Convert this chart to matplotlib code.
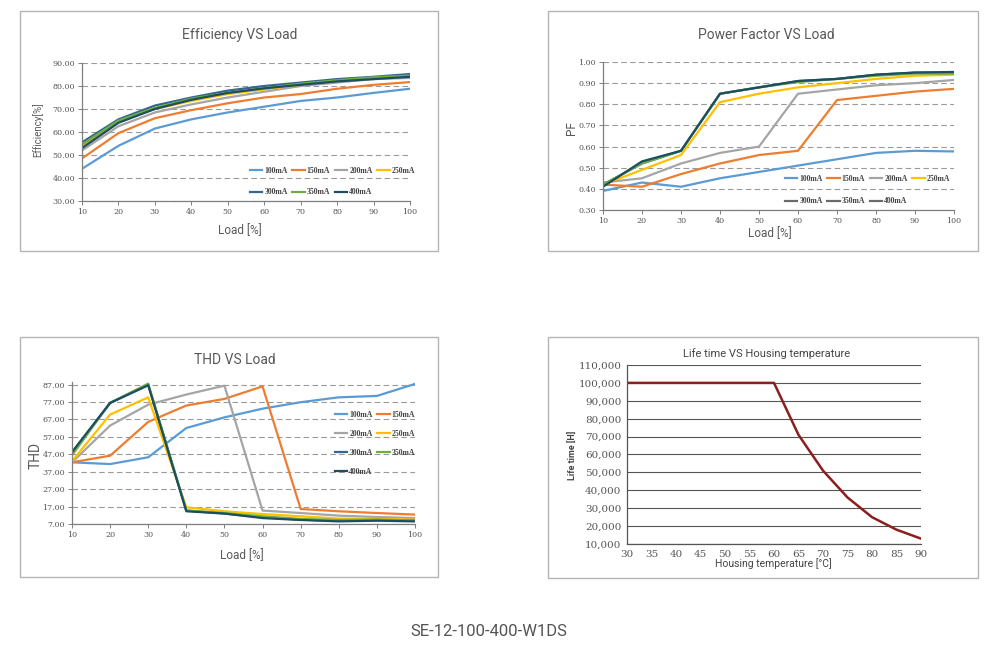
import matplotlib
matplotlib.use("Agg")
import matplotlib.pyplot as plt
from matplotlib.patches import Rectangle

W, H = 995, 664

# ---------------- data ----------------
load = [10, 20, 30, 40, 50, 60, 70, 80, 90, 100]
series_names = ["100mA", "150mA", "200mA", "250mA", "300mA", "350mA", "400mA"]
series_colors = ["#5b9bd5", "#ed7d31", "#a5a5a5", "#ffc000", "#34678f", "#70ad47", "#1b4f5f"]

eff_100 = [44.0, 54.0, 61.5, 65.5, 68.5, 71.0, 73.5, 75.0, 77.0, 78.8]
eff_150 = [48.5, 59.5, 66.0, 69.5, 72.5, 75.0, 76.5, 78.8, 80.5, 81.7]
eff_200 = [52.0, 62.5, 68.5, 72.0, 75.0, 77.5, 80.0, 81.5, 83.0, 83.5]
eff_250 = [54.0, 64.5, 70.0, 73.5, 76.5, 78.5, 80.5, 82.5, 83.5, 84.5]
eff_300 = [55.5, 65.5, 71.5, 75.0, 78.0, 80.0, 81.5, 83.0, 84.0, 85.2]
eff_350 = [54.5, 65.0, 70.5, 74.5, 77.0, 79.0, 81.0, 82.5, 83.8, 84.5]
eff_400 = [53.0, 64.0, 70.0, 74.0, 77.0, 79.0, 80.5, 82.0, 83.0, 84.0]

pf_100 = [0.39, 0.43, 0.41, 0.45, 0.48, 0.51, 0.54, 0.57, 0.58, 0.577]
pf_150 = [0.42, 0.41, 0.47, 0.52, 0.56, 0.58, 0.82, 0.84, 0.86, 0.873]
pf_200 = [0.43, 0.45, 0.52, 0.57, 0.60, 0.85, 0.87, 0.89, 0.90, 0.915]
pf_250 = [0.42, 0.49, 0.56, 0.81, 0.85, 0.88, 0.90, 0.92, 0.935, 0.94]
pf_300 = [0.42, 0.52, 0.58, 0.85, 0.88, 0.91, 0.92, 0.94, 0.95, 0.95]
pf_350 = [0.42, 0.52, 0.58, 0.85, 0.88, 0.905, 0.92, 0.935, 0.945, 0.945]
pf_400 = [0.41, 0.53, 0.58, 0.85, 0.88, 0.91, 0.92, 0.94, 0.95, 0.953]

thd_100 = [42.4, 41.4, 45.3, 62.1, 68.2, 73.2, 76.9, 79.7, 80.5, 87.4]
thd_150 = [42.4, 46.2, 65.6, 75.0, 78.8, 86.0, 15.6, 14.3, 13.3, 12.4]
thd_200 = [42.4, 63.5, 75.5, 81.3, 86.4, 14.7, 13.3, 11.8, 11.0, 10.4]
thd_250 = [43.0, 69.8, 79.7, 16.6, 14.3, 12.7, 11.4, 10.1, 9.9, 9.5]
thd_300 = [47.8, 76.5, 87.0, 14.7, 13.0, 10.8, 9.5, 8.9, 9.3, 8.9]
thd_350 = [46.4, 76.5, 87.6, 14.8, 13.3, 11.4, 9.9, 9.3, 9.5, 9.1]
thd_400 = [48.3, 76.5, 86.6, 14.3, 13.0, 10.4, 9.3, 8.5, 8.9, 8.5]

temp = [30, 35, 40, 45, 50, 55, 60, 65, 70, 75, 80, 85, 90]
life_hours = [100000, 100000, 100000, 100000, 100000, 100000, 100000, 71000, 51000, 36000, 25000, 18000, 13000]

eff_yticks = [30, 40, 50, 60, 70, 80, 90]
pf_yticks = [0.30, 0.40, 0.50, 0.60, 0.70, 0.80, 0.90, 1.00]
thd_yticks = [7, 17, 27, 37, 47, 57, 67, 77, 87]
life_yticks = [10000, 20000, 30000, 40000, 50000, 60000, 70000, 80000, 90000, 100000, 110000]

# ---------------- figure ----------------
fig = plt.figure(figsize=(W / 100, H / 100), dpi=100)
fig.patch.set_facecolor("white")

TITLE_FONT = ["Roboto", "DejaVu Sans"]
TICK_FONT = ["DejaVu Serif"]
LEG_FONT = ["Liberation Serif", "DejaVu Serif"]
TXT = "#595959"
SPINE = "#7f7f7f"


def ax_at(l, t, r, b):
    return fig.add_axes([l / W, 1 - b / H, (r - l) / W, (b - t) / H])


def frame(l, t, r, b):
    fig.add_artist(Rectangle((l / W, 1 - b / H), (r - l) / W, (b - t) / H,
                             transform=fig.transFigure, fill=False,
                             edgecolor="#b4b4b4", linewidth=1.0))


def style(ax, tick_size=5.8):
    for s in ["top", "right"]:
        ax.spines[s].set_visible(False)
    for s in ["left", "bottom"]:
        ax.spines[s].set_color(SPINE)
        ax.spines[s].set_linewidth(0.9)
    ax.tick_params(axis="both", colors=SPINE, labelcolor="#555555", length=3, width=0.7,
                   labelsize=tick_size, pad=2)
    for lab in ax.get_xticklabels() + ax.get_yticklabels():
        lab.set_fontfamily(TICK_FONT)


def dashed_grid(ax):
    ax.grid(axis="y", color="#9a9a9a", linestyle=(0, (5, 3)), linewidth=0.8)
    ax.set_axisbelow(True)


def legend_kw(anchor, spacing):
    return dict(loc="upper left", bbox_to_anchor=(anchor[0] / W, 1 - anchor[1] / H),
                bbox_transform=fig.transFigure, frameon=False,
                prop=dict(family=LEG_FONT, weight="bold", size=5.6),
                handlelength=1.6, labelspacing=spacing, columnspacing=0.6,
                handletextpad=0.25, labelcolor="#444444", borderpad=0)


frame(20, 11, 438, 251)
frame(548, 11, 978, 251)
frame(20, 337, 438, 577)
frame(548, 337, 978, 578)

order = [0, 4, 1, 5, 2, 6, 3]

# ---------- Efficiency ----------
ax1 = ax_at(82, 63, 410, 201)
effs = [eff_100, eff_150, eff_200, eff_250, eff_300, eff_350, eff_400]
h1 = []
for name, col, ys in zip(series_names, series_colors, effs):
    ln, = ax1.plot(load, ys, color=col, lw=1.6, label=name)
    h1.append(ln)
ax1.set_xlim(10, 100)
ax1.set_ylim(30, 90)
ax1.set_xticks(load)
ax1.set_yticks(eff_yticks)
ax1.set_yticklabels([f"{v:.2f}" for v in eff_yticks])
dashed_grid(ax1)
style(ax1)
ax1.legend([h1[i] for i in order], [series_names[i] for i in order], ncol=4,
           **legend_kw((246, 163), 1.75))
fig.text(240 / W, 1 - 35 / H, "Efficiency VS Load", ha="center", va="center",
         fontsize=10, color=TXT, family=TITLE_FONT)
fig.text(240 / W, 1 - 231 / H, "Load [%]", ha="center", va="center",
         fontsize=8.5, color=TXT, family=TITLE_FONT)
fig.text(38 / W, 1 - 130 / H, "Efficiency[%]", ha="center", va="center",
         rotation=90, fontsize=7, color=TXT, family=TITLE_FONT)

# ---------- Power factor ----------
ax2 = ax_at(603, 62, 954, 210)
pfs = [pf_100, pf_150, pf_200, pf_250, pf_300, pf_350, pf_400]
h2 = []
for name, col, ys in zip(series_names, series_colors, pfs):
    ln, = ax2.plot(load, ys, color=col, lw=1.6, label=name)
    h2.append(ln)
ax2.set_xlim(10, 100)
ax2.set_ylim(0.30, 1.00)
ax2.set_xticks(load)
ax2.set_yticks(pf_yticks)
ax2.set_yticklabels([f"{v:.2f}" for v in pf_yticks])
dashed_grid(ax2)
style(ax2)
leg_handles = []
for i in order:
    if i >= 4:
        leg_handles.append(plt.Line2D([], [], color="#6a6a6a", lw=1.6))
    else:
        leg_handles.append(h2[i])
ax2.legend(leg_handles, [series_names[i] for i in order], ncol=4,
           **legend_kw((781, 171), 1.85))
fig.text(766 / W, 1 - 35 / H, "Power Factor VS Load", ha="center", va="center",
         fontsize=10, color=TXT, family=TITLE_FONT)
fig.text(770 / W, 1 - 234 / H, "Load [%]", ha="center", va="center",
         fontsize=8.5, color=TXT, family=TITLE_FONT)
fig.text(572 / W, 1 - 128 / H, "PF", ha="center", va="center",
         rotation=90, fontsize=8.5, color=TXT, family=TITLE_FONT)

# ---------- THD ----------
ax3 = ax_at(72, 382, 415, 524)
thds = [thd_100, thd_150, thd_200, thd_250, thd_300, thd_350, thd_400]
h3 = []
for name, col, ys in zip(series_names, series_colors, thds):
    ln, = ax3.plot(load, ys, color=col, lw=1.6, label=name)
    h3.append(ln)
ax3.set_xlim(10, 100)
ax3.set_ylim(7, 88.5)
ax3.set_xticks(load)
ax3.set_yticks(thd_yticks)
ax3.set_yticklabels([f"{v:.2f}" for v in thd_yticks])
dashed_grid(ax3)
style(ax3)
order3 = [0, 2, 4, 6, 1, 3, 5]
ax3.legend([h3[i] for i in order3], [series_names[i] for i in order3], ncol=2,
           **legend_kw((331, 407), 1.4))
fig.text(235 / W, 1 - 360 / H, "THD VS Load", ha="center", va="center",
         fontsize=10, color=TXT, family=TITLE_FONT)
fig.text(242 / W, 1 - 556 / H, "Load [%]", ha="center", va="center",
         fontsize=8.5, color=TXT, family=TITLE_FONT)
fig.text(36 / W, 1 - 455 / H, "THD", ha="center", va="center",
         rotation=90, fontsize=10, color=TXT, family=TITLE_FONT)

# ---------- Life time ----------
ax4 = ax_at(627, 365, 921, 544)
ax4.plot(temp, life_hours, color="#8b1e1e", lw=1.8)
ax4.set_xlim(30, 90)
ax4.set_ylim(10000, 110000)
ax4.set_xticks(temp)
ax4.set_yticks(life_yticks)
ax4.set_yticklabels([f"{v:,}" for v in life_yticks])
ax4.grid(axis="y", color="#555555", linestyle="-", linewidth=0.8)
ax4.set_axisbelow(True)
style(ax4, tick_size=7.5)
ax4.tick_params(axis="both", length=0, pad=4)
ax4.spines["left"].set_color("#555555")
ax4.spines["bottom"].set_color("#555555")
fig.text(767 / W, 1 - 354 / H, "Life time VS Housing temperature", ha="center", va="center",
         fontsize=8, color="#444444", family=TITLE_FONT)
fig.text(773 / W, 1 - 564 / H, "Housing temperature [°C]", ha="center", va="center",
         fontsize=7.5, color="#444444", family=TITLE_FONT)
fig.text(573 / W, 1 - 455 / H, "Life time [H]", ha="center", va="center",
         rotation=90, fontsize=6.5, color="#444444", family=TITLE_FONT, weight="bold")

# ---------- main caption ----------
fig.text(489 / W, 1 - 631 / H, "SE-12-100-400-W1DS", ha="center", va="center",
         fontsize=12, color="#555555", family=TITLE_FONT)

fig.savefig("out.png", dpi=100, facecolor="white")
